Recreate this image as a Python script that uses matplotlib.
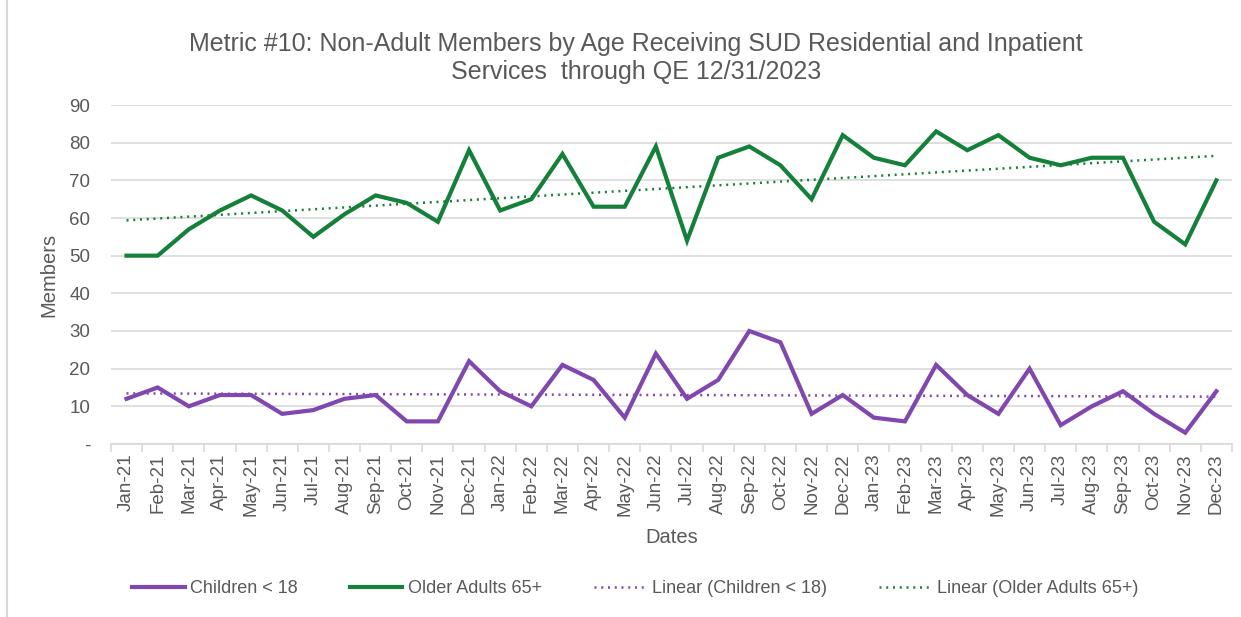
import numpy as np
import matplotlib
matplotlib.use("Agg")
import matplotlib.pyplot as plt
from matplotlib.lines import Line2D

plt.rcParams['font.family'] = ['Liberation Sans', 'DejaVu Sans']

months = ["Jan", "Feb", "Mar", "Apr", "May", "Jun", "Jul", "Aug", "Sep", "Oct", "Nov", "Dec"]
dates = [m + "-" + y for y in ["21", "22", "23"] for m in months]

children = [12, 15, 10, 13, 13, 8, 9, 12, 13, 6, 6, 22,
            14, 10, 21, 17, 7, 24, 12, 17, 30, 27, 8, 13,
            7, 6, 21, 13, 8, 20, 5, 10, 14, 8, 3, 14]
older = [50, 50, 57, 62, 66, 62, 55, 61, 66, 64, 59, 78,
         62, 65, 77, 63, 63, 79, 54, 76, 79, 74, 65, 82,
         76, 74, 83, 78, 82, 76, 74, 76, 76, 59, 53, 70]

purple = "#8048AE"
green = "#15803A"
textc = "#595959"
dots = (0, (0.8, 1.9))

x = np.arange(len(dates))

fig = plt.figure(figsize=(12.41, 6.17), dpi=100)
ax = fig.add_axes([0.0894, 0.2804, 0.9033, 0.5494])

# trend lines (least squares, like Excel's linear trendline)
cc = np.polyfit(x + 1, children, 1)
co = np.polyfit(x + 1, older, 1)

ax.plot(x, np.polyval(co, x + 1), color=green, lw=1.8, ls=dots, zorder=3)
ax.plot(x, np.polyval(cc, x + 1), color=purple, lw=1.8, ls=dots, zorder=3)
ax.plot(x, children, color=purple, lw=3.0, solid_joinstyle='miter', zorder=4)
ax.plot(x, older, color=green, lw=3.0, solid_joinstyle='miter', zorder=4)

ax.set_xlim(-0.5, len(dates) - 0.5)
ax.set_ylim(0, 90)
ax.set_yticks(range(0, 91, 10))
ax.set_yticklabels(["-"] + [str(v) for v in range(10, 91, 10)])
ax.grid(axis='y', color="#D9D9D9", lw=1.2)
ax.set_axisbelow(True)

ax.set_xticks(x)
ax.set_xticklabels(dates, rotation=90)
ax.set_xticks(np.arange(-0.5, len(dates), 1), minor=True)
ax.tick_params(axis='x', which='major', length=0, pad=7, labelsize=13.5, labelcolor=textc)
ax.tick_params(axis='x', which='minor', length=6, color="#D9D9D9", width=1.2)
ax.tick_params(axis='y', length=0, pad=15, labelsize=13.5, labelcolor=textc)

for s in ['top', 'right', 'left']:
    ax.spines[s].set_visible(False)
ax.spines['bottom'].set_color("#D9D9D9")
ax.spines['bottom'].set_linewidth(1.2)

ax.set_ylabel("Members", fontsize=14.5, color=textc, labelpad=8)
ax.set_xlabel("Dates", fontsize=14.5, color=textc, labelpad=8)

fig.text(0.5125, 0.9065, "Metric #10: Non-Adult Members by Age Receiving SUD Residential and Inpatient\nServices  through QE 12/31/2023",
         ha='center', va='center', fontsize=18, color=textc, linespacing=1.2)

handles = [Line2D([], [], color=purple, lw=3.0),
           Line2D([], [], color=green, lw=3.0),
           Line2D([], [], color=purple, lw=1.8, ls=dots),
           Line2D([], [], color=green, lw=1.8, ls=dots)]
labels = ["Children < 18", "Older Adults 65+", "Linear (Children < 18)", "Linear (Older Adults 65+)"]
fig.legend(handles, labels, loc='center', bbox_to_anchor=(0.512, 0.0454), ncol=4, frameon=False,
           fontsize=13, labelcolor=textc, handlelength=2.9, handletextpad=0.3, columnspacing=2.9)

# thin frame around the chart area
fig.add_artist(Line2D([0.006, 0.006], [0.0, 1.0], color="#D9D9D9", lw=1.5))

fig.savefig("out.png", dpi=100)
